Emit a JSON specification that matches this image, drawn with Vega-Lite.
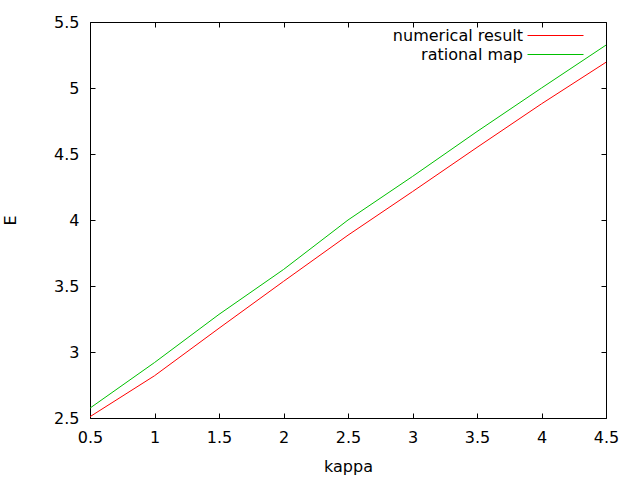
{
  "$schema": "https://vega.github.io/schema/vega-lite/v6.json",
  "width": 516,
  "height": 396,
  "autosize": {"type": "none"},
  "padding": {"left": 90, "top": 22, "right": 34, "bottom": 62},
  "background": "white",
  "config": {
    "font": "DejaVu Sans",
    "view": {"stroke": "black", "strokeWidth": 1},
    "axis": {
      "grid": false,
      "domain": false,
      "tickColor": "black",
      "tickSize": -5,
      "tickWidth": 1,
      "labelFont": "DejaVu Sans",
      "labelFontSize": 16,
      "labelColor": "black",
      "titleFont": "DejaVu Sans",
      "titleFontSize": 16,
      "titleFontWeight": "normal",
      "titleColor": "black",
      "format": "~g"
    }
  },
  "data": {
    "values": [
      {"kappa": 0.5, "E": 2.51, "series": "numerical result"},
      {"kappa": 1.0, "E": 2.82, "series": "numerical result"},
      {"kappa": 1.5, "E": 3.18, "series": "numerical result"},
      {"kappa": 2.0, "E": 3.535, "series": "numerical result"},
      {"kappa": 2.5, "E": 3.885, "series": "numerical result"},
      {"kappa": 3.0, "E": 4.215, "series": "numerical result"},
      {"kappa": 3.5, "E": 4.55, "series": "numerical result"},
      {"kappa": 4.0, "E": 4.88, "series": "numerical result"},
      {"kappa": 4.5, "E": 5.195, "series": "numerical result"},
      {"kappa": 0.5, "E": 2.575, "series": "rational map"},
      {"kappa": 1.0, "E": 2.92, "series": "rational map"},
      {"kappa": 1.5, "E": 3.285, "series": "rational map"},
      {"kappa": 2.0, "E": 3.625, "series": "rational map"},
      {"kappa": 2.5, "E": 4.0, "series": "rational map"},
      {"kappa": 3.0, "E": 4.33, "series": "rational map"},
      {"kappa": 3.5, "E": 4.67, "series": "rational map"},
      {"kappa": 4.0, "E": 5.0, "series": "rational map"},
      {"kappa": 4.5, "E": 5.325, "series": "rational map"}
    ]
  },
  "layer": [
    {
      "mark": {"type": "line", "strokeWidth": 1},
      "encoding": {
        "x": {
          "field": "kappa", "type": "quantitative",
          "scale": {"domain": [0.5, 4.5], "nice": false, "zero": false},
          "axis": {"orient": "bottom", "title": "kappa", "format": "~g", "values": [0.5, 1, 1.5, 2, 2.5, 3, 3.5, 4, 4.5], "labelPadding": 16, "titlePadding": 13, "labelFlush": false}
        },
        "y": {
          "field": "E", "type": "quantitative",
          "scale": {"domain": [2.5, 5.5], "nice": false, "zero": false},
          "axis": {"orient": "left", "title": "E", "format": "~g", "values": [2.5, 3, 3.5, 4, 4.5, 5, 5.5], "labelPadding": 16, "titlePadding": 35, "labelFlush": false}
        },
        "color": {
          "field": "series", "type": "nominal",
          "scale": {"domain": ["numerical result", "rational map"], "range": ["#ff0000", "#00c000"]},
          "legend": {
            "title": null,
            "orient": "none",
            "legendX": 457,
            "legendY": 5,
            "symbolType": "M-3.5,0H3.5",
            "symbolSize": 256,
            "symbolStrokeWidth": 1,
            "symbolFillColor": "transparent",
            "labelAlign": "right",
            "labelOffset": -41,
            "labelFont": "DejaVu Sans",
            "labelFontSize": 16,
            "labelColor": "black",
            "rowPadding": 2,
            "symbolOpacity": 1,
            "encode": {"symbols": {"update": {"stroke": {"scale": "color", "field": "value"}, "strokeOpacity": {"value": 1}}}}
          }
        }
      }
    },
    {
      "mark": {"type": "line", "strokeOpacity": 0},
      "encoding": {
        "x": {
          "field": "kappa", "type": "quantitative",
          "axis": {"orient": "top", "title": null, "labels": false, "values": [0.5, 1, 1.5, 2, 2.5, 3, 3.5, 4, 4.5]}
        },
        "y": {
          "field": "E", "type": "quantitative",
          "axis": {"orient": "right", "title": null, "labels": false, "values": [2.5, 3, 3.5, 4, 4.5, 5, 5.5]}
        },
        "detail": {"field": "series"}
      }
    }
  ],
  "resolve": {"axis": {"x": "independent", "y": "independent"}}
}
